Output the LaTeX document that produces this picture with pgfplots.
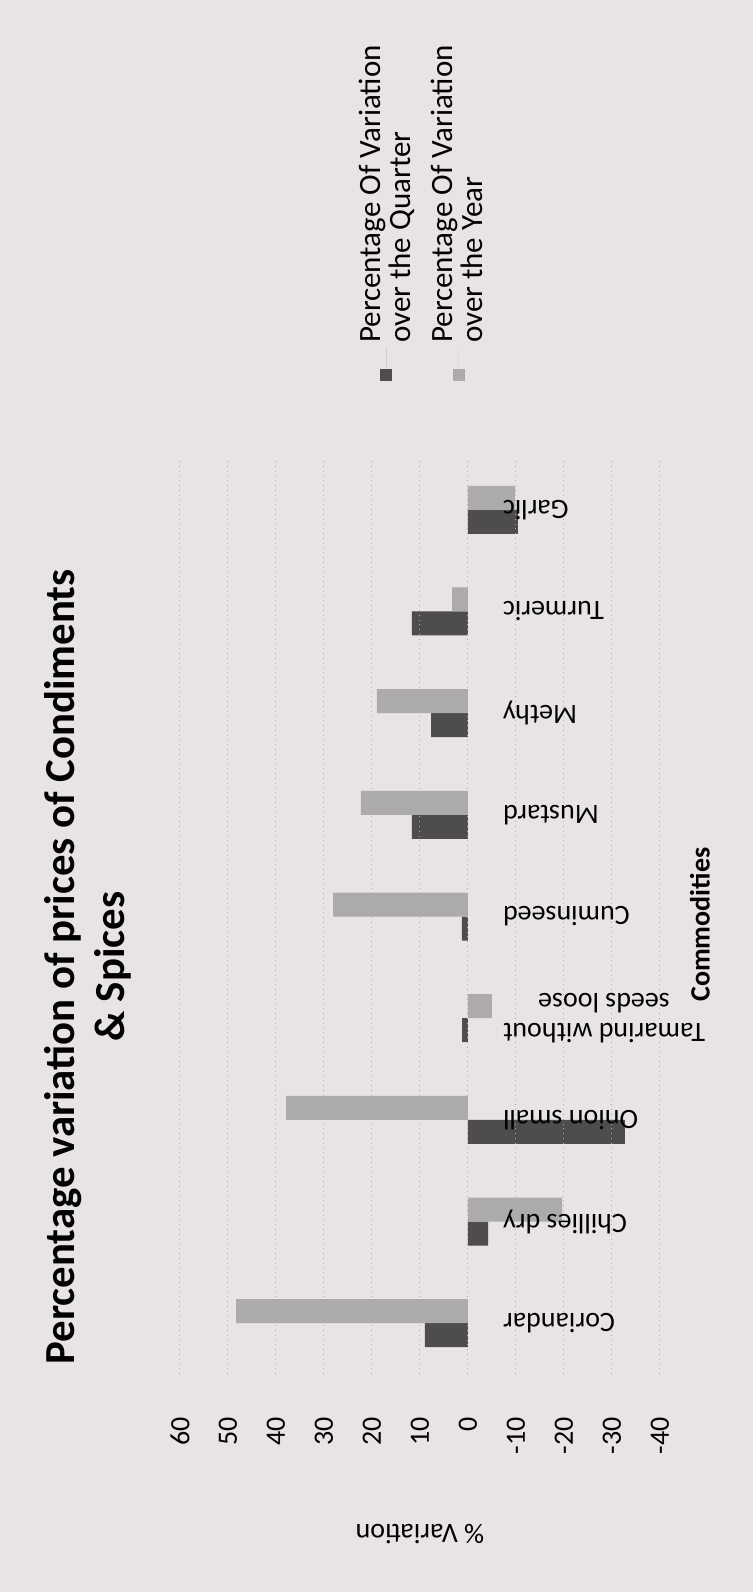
\documentclass[border=0pt]{standalone}
\usepackage{pgfplots}
\pgfplotsset{compat=1.18}
\usepackage{fontspec}
\setmainfont{Carlito}
\usepackage{graphicx}

\definecolor{paper}{RGB}{231,227,230}
\definecolor{qtr}{RGB}{78,76,78}
\definecolor{yr}{RGB}{172,170,172}
\definecolor{gridc}{RGB}{170,168,170}

\newcommand{\lbl}{\fontsize{14}{15}\selectfont}

\begin{document}
% chart is printed turned a quarter to the left
\rotatebox{90}{%
\begin{tikzpicture}
\fill[paper] (0,0) rectangle (796pt,376.5pt);
\begin{axis}[
  at={(109pt,46.5pt)}, anchor=south west,
  scale only axis, width=457.5pt, height=240pt,
  ybar=0pt, bar width=12pt,
  xmin=-0.5, xmax=8.5, ymin=-40, ymax=60,
  axis x line=middle, axis y line=left,
  x axis line style={draw=none}, y axis line style={draw=none},
  hide obscured x ticks=false, hide obscured y ticks=false,
  major tick length=0pt,
  axis on top,
  ymajorgrids, grid style={dotted, gridc, line width=0.5pt},
  xtick={0,...,8},
  xticklabels={Coriandar, Chillies dry, Onion small, {Tamarind without\\seeds loose},
    Cuminseed, Mustard, Methy, Turmeric, Garlic},
  xticklabel style={rotate=90, anchor=east, align=center, font=\lbl},
  xticklabel shift=14pt,
  ytick={-40,-30,...,60},
  yticklabels={-40,-30,-20,-10,0,10,20,30,40,50,60},
  yticklabel style={font=\lbl, xshift=-18pt},
  title={Percentage variation of prices of Condiments\\\& Spices},
  title style={at={(axis description cs:0.445,1.1667)}, anchor=center,
    align=center, font=\bfseries\fontsize{21.4}{25}\selectfont},
  ylabel={\% Variation},
  every axis y label/.style={at={(axis description cs:-0.175,0.5)},
    anchor=center, rotate=90, font=\lbl},
  xlabel={Commodities},
  every axis x label/.style={at={(axis description cs:0.491,-0.083)},
    anchor=center, font=\bfseries\lbl},
  legend style={at={(axis description cs:1.085,0.495)}, anchor=west,
    draw=none, fill=none, inner sep=0pt, font=\fontsize{15.5}{15}\selectfont,
    cells={anchor=west, align=left}, row sep=5pt},
  legend image code/.code={\fill[#1] (0pt,-3pt) rectangle (6pt,3pt);
    \path (0pt,0pt) -- (17pt,0pt);},
]
\addplot[fill=qtr, draw=none] coordinates {
  (0,9) (1,-4.2) (2,-32.7) (3,1.2) (4,1.3) (5,11.7) (6,7.7) (7,11.7) (8,-10.4)};
\addlegendentry{Percentage Of Variation\\over the Quarter}
\addplot[fill=yr, draw=none] coordinates {
  (0,48.3) (1,-19.6) (2,37.9) (3,-5) (4,28.1) (5,22.3) (6,19) (7,3.3) (8,-9.8)};
\addlegendentry{Percentage Of Variation\\over the Year}
\end{axis}
\end{tikzpicture}}
\end{document}
